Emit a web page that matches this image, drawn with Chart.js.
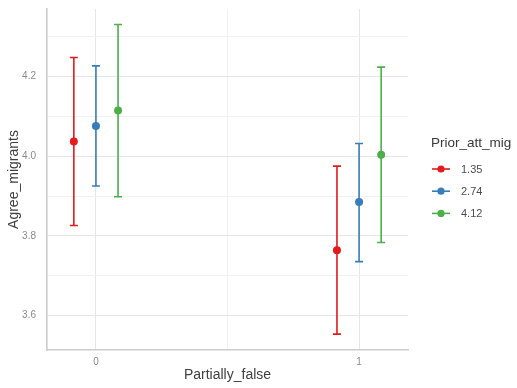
<!DOCTYPE html>
<html>
<head>
<meta charset="utf-8">
<script src="https://cdn.jsdelivr.net/npm/chart.js@4"></script>
<style>
  html, body { margin: 0; padding: 0; background: #ffffff; }
  #wrap { width: 517px; height: 388px; position: relative; }
</style>
</head>
<body>
<div id="wrap"><canvas id="c" width="517" height="388"></canvas></div>
<script>
// Predicted Agree_migrants by Partially_false, one series per Prior_att_mig level
const categories = [0, 1];
const seriesNames = ['1.35', '2.74', '4.12'];
const seriesColors = ['#E41A1C', '#377EB8', '#4DAF4A'];

const mean135  = [4.037, 3.764];
const lower135 = [3.826, 3.553];
const upper135 = [4.248, 3.975];

const mean274  = [4.076, 3.885];
const lower274 = [3.925, 3.735];
const upper274 = [4.227, 4.032];

const mean412  = [4.115, 4.004];
const lower412 = [3.898, 3.783];
const upper412 = [4.331, 4.224];

const yTicks = [3.6, 3.8, 4.0, 4.2];
const yMinorTicks = [3.7, 3.9, 4.1, 4.3];
const xTicks = [0, 1];
const xMinorTicks = [0.5];

const means = [mean135, mean274, mean412];
const lowers = [lower135, lower274, lower412];
const uppers = [upper135, upper274, upper412];

const FONT = '"Liberation Sans", Arial, sans-serif';

// horizontal dodge between the three series within a category
const DODGE = 0.084;
const dodgeFor = i => (i - 1) * DODGE;

const datasets = seriesNames.map((name, i) => ({
  label: name,
  data: categories.map((c, j) => ({ x: c + dodgeFor(i), y: means[i][j], lo: lowers[i][j], hi: uppers[i][j] })),
  backgroundColor: seriesColors[i],
  borderColor: seriesColors[i],
  pointRadius: 4,
  pointHoverRadius: 4,
  borderWidth: 0
}));

// vertical error bars with caps, drawn under the points
const errorBars = {
  id: 'errorBars',
  beforeDatasetsDraw(chart) {
    const { ctx, scales: { x, y } } = chart;
    ctx.save();
    chart.data.datasets.forEach(ds => {
      ctx.strokeStyle = ds.borderColor;
      ctx.lineWidth = 1.6;
      ds.data.forEach(p => {
        const px = x.getPixelForValue(p.x);
        const pl = y.getPixelForValue(p.lo);
        const ph = y.getPixelForValue(p.hi);
        const cap = 4;
        ctx.beginPath();
        ctx.moveTo(px, pl); ctx.lineTo(px, ph);
        ctx.moveTo(px - cap, pl); ctx.lineTo(px + cap, pl);
        ctx.moveTo(px - cap, ph); ctx.lineTo(px + cap, ph);
        ctx.stroke();
      });
    });
    ctx.restore();
  }
};

// legend on the right: title plus line-and-dot keys
const sideLegend = {
  id: 'sideLegend',
  afterDraw(chart) {
    const { ctx } = chart;
    ctx.save();
    ctx.fillStyle = '#3a3a3a';
    ctx.font = '13.5px ' + FONT;
    ctx.textBaseline = 'middle';
    ctx.textAlign = 'left';
    ctx.fillText('Prior_att_mig', 431, 143);
    chart.data.datasets.forEach((ds, i) => {
      const cy = 169 + i * 22.2;
      ctx.strokeStyle = ds.borderColor;
      ctx.lineWidth = 1.6;
      ctx.beginPath();
      ctx.moveTo(432, cy); ctx.lineTo(450, cy);
      ctx.stroke();
      ctx.fillStyle = ds.backgroundColor;
      ctx.beginPath();
      ctx.arc(441, cy, 3.6, 0, Math.PI * 2);
      ctx.fill();
      ctx.fillStyle = '#4d4d4d';
      ctx.font = '11px ' + FONT;
      ctx.fillText(ds.label, 461, cy + 0.5);
    });
    ctx.restore();
  }
};

const majorGrid = '#e6e6e6';
const minorGrid = '#f1f1f1';

new Chart(document.getElementById('c'), {
  type: 'scatter',
  data: { datasets },
  plugins: [errorBars, sideLegend],
  options: {
    responsive: false,
    animation: false,
    events: [],
    layout: { padding: { top: 9, right: 109, left: 0, bottom: 0 } },
    plugins: { legend: { display: false }, tooltip: { enabled: false } },
    scales: {
      x: {
        type: 'linear',
        min: -0.186,
        max: 1.186,
        afterBuildTicks: s => { s.ticks = [...xTicks, ...xMinorTicks].sort((a, b) => a - b).map(v => ({ value: v })); },
        afterFit: s => { s.height = 38; s.paddingLeft = 0; s.paddingRight = 0; },
        ticks: {
          padding: 6,
          color: '#8c8c8c',
          font: { family: FONT, size: 10 },
          callback: v => xTicks.includes(v) ? String(v) : ''
        },
        grid: {
          drawTicks: false,
          color: c => xTicks.includes(c.tick && c.tick.value) ? majorGrid : minorGrid,
          lineWidth: 1
        },
        border: { display: true, color: '#cccccc', width: 1.6 },
        title: {
          display: true,
          text: 'Partially_false',
          color: '#404040',
          font: { family: FONT, size: 14 },
          padding: { top: 0, bottom: 4 }
        }
      },
      y: {
        min: 3.513,
        max: 4.37,
        afterBuildTicks: s => { s.ticks = [...yTicks, ...yMinorTicks].sort((a, b) => a - b).map(v => ({ value: v })); },
        afterFit: s => { s.width = 47; s.paddingTop = 0; s.paddingBottom = 0; },
        ticks: {
          padding: 11,
          color: '#8c8c8c',
          font: { family: FONT, size: 10 },
          callback: v => yTicks.some(t => Math.abs(t - v) < 1e-9) ? v.toFixed(1) : ''
        },
        grid: {
          drawTicks: false,
          color: c => yTicks.some(t => Math.abs(t - (c.tick ? c.tick.value : NaN)) < 1e-9) ? majorGrid : minorGrid,
          lineWidth: 1
        },
        border: { display: true, color: '#cccccc', width: 1.6 },
        title: {
          display: true,
          text: 'Agree_migrants',
          color: '#404040',
          font: { family: FONT, size: 14 },
          padding: { top: 5.5, bottom: 0 }
        }
      }
    }
  }
});
</script>
</body>
</html>
